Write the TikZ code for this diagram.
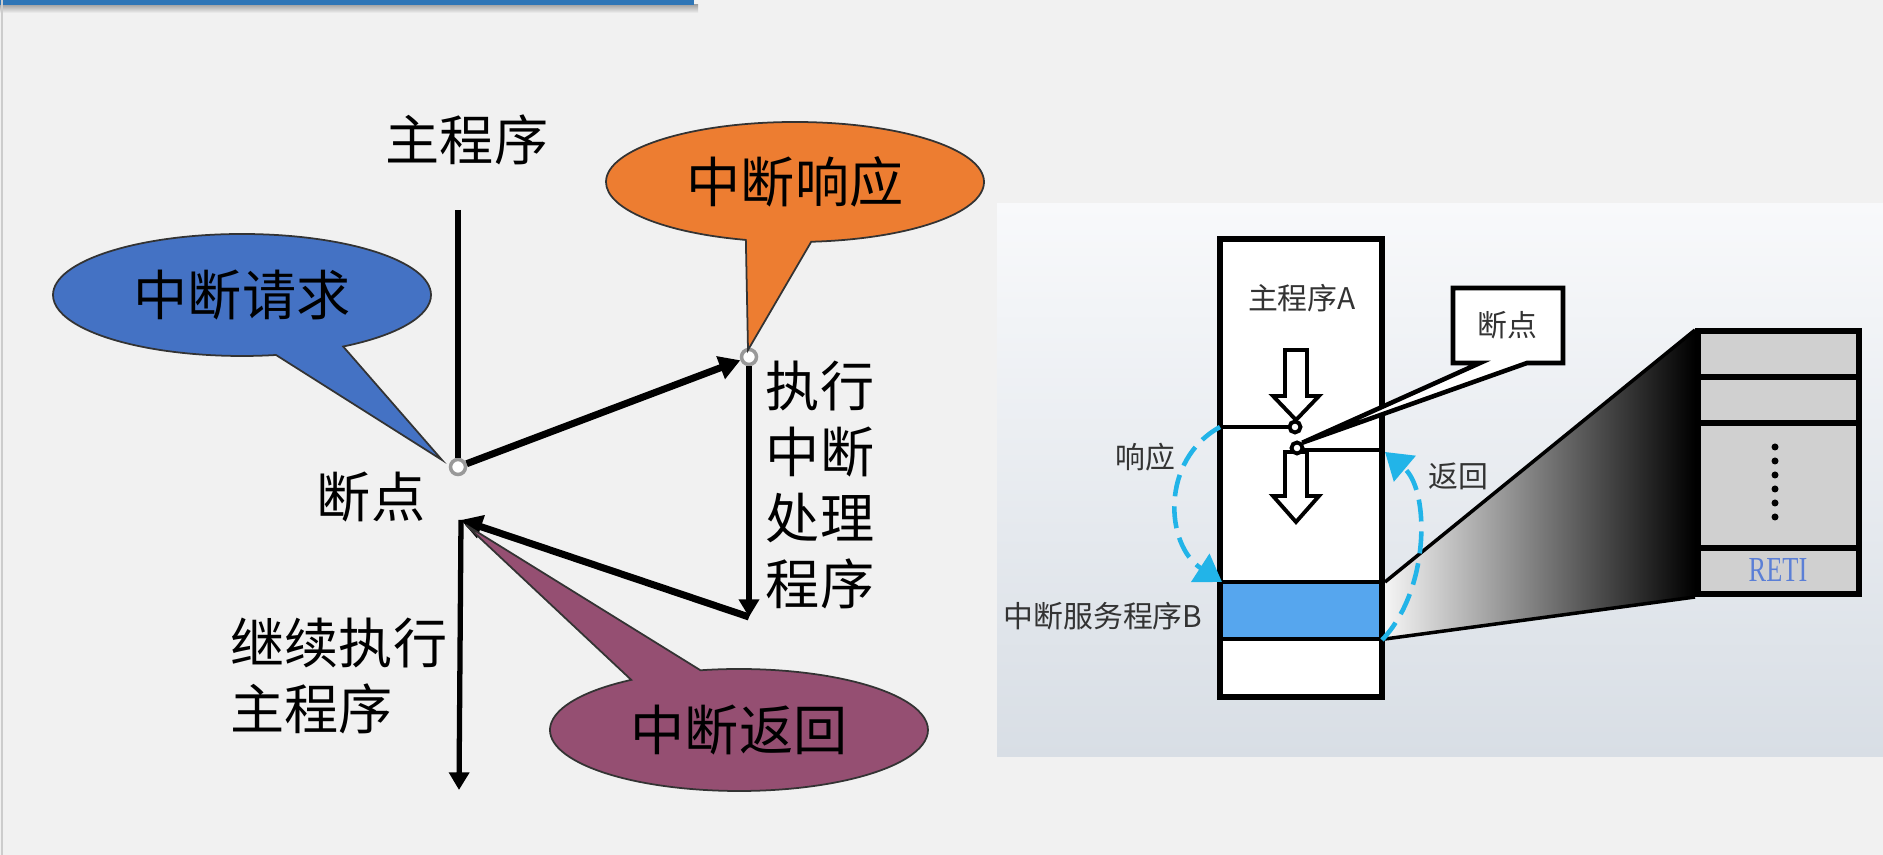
\documentclass[tikz,border=0pt]{standalone}
\usepackage{fontspec}
\usepackage{tikz}
\usetikzlibrary{arrows.meta, positioning, shapes.callouts, shapes.geometric}
\setmainfont{Noto Sans CJK SC}
\newfontfamily\serfont{Liberation Serif}
\definecolor{panelgray}{HTML}{F1F1F1}
\definecolor{barblue}{HTML}{2E75B6}
\definecolor{reqblue}{HTML}{4472C4}
\definecolor{resporange}{HTML}{ED7D31}
\definecolor{retpurple}{HTML}{954F72}
\definecolor{bandblue}{HTML}{56A6EE}
\definecolor{dashcyan}{HTML}{22B4E8}
\definecolor{stackgray}{HTML}{D0D0D0}
\definecolor{retiblue}{HTML}{5B7FD6}
\definecolor{phototop}{HTML}{F8F9FB}
\definecolor{photobot}{HTML}{D8DEE5}
\begin{document}
\begin{tikzpicture}[x=0.1mm, y=-0.1mm,
  lbl/.style={font=\fontsize{15.4}{18.8}\selectfont, inner sep=0pt},
  small/.style={font=\fontsize{8.5}{9}\selectfont, text=black!80, inner sep=0pt},
  bubble/.style={ellipse callout, draw=black!80, line width=0.5pt, inner sep=0pt,
    font=\fontsize{15.4}{18.8}\selectfont, minimum width=37.8mm, minimum height=12.2mm},
  bpt/.style={circle, draw=gray!80, fill=white, line width=1pt,
    minimum size=1.5mm, inner sep=0pt},
  flow/.style={line width=1.5pt, -{Triangle[length=5pt,width=5.6pt]}},
  jump/.style={line width=2pt, -{Triangle[length=6pt,width=6.6pt]}},
  hollow/.style={draw=black, fill=white, line width=1.1pt, line join=miter},
  pinpt/.style={circle, draw=black, fill=white, line width=1.1pt,
    minimum size=1.1mm, inner sep=0pt},
  cyanarc/.style={dashcyan, line width=1.3pt, dash pattern=on 2.2mm off 1mm,
    -{Triangle[length=2.6mm,width=3.3mm]}}
]
  \useasboundingbox (0,0) rectangle (1883,855);
  \fill[panelgray] (0,0) rectangle (1883,855);

  % title bar and page edge
  \shade[top color=black!35, bottom color=panelgray] (0,5) rectangle (698,13);
  \fill[barblue] (0,0) rectangle (694,5);
  \draw[black!20, line width=0.5pt] (2,0) -- (2,855);

  % flow on the left
  \coordinate (mainTop) at (458,210);
  \node[bpt] (bpA) at (458,467) {};
  \node[bpt] (bpB) at (749,357) {};
  \coordinate (isrEnd) at (749,617);
  \coordinate (resume) at (461,520);
  \coordinate (mainEnd) at (459,790);

  \draw[line width=1.5pt] (mainTop) -- (bpA.north);
  \draw[jump] (bpA) -- (bpB);
  \draw[flow] (bpB.south) -- (isrEnd);
  \draw[jump] (isrEnd) -- (resume);
  \draw[flow] (resume) -- (mainEnd);

  \node[lbl] (mainLbl) at (467,140) {主程序};
  \node[lbl] (bpLbl) at (371,497) {断点};
  \node[lbl, align=center] (isrLbl) at (820,485) {执行\\中断\\处理\\程序};
  \node[lbl, align=left, anchor=west] (contLbl) at (230,676) {继续执行\\主程序};

  % callouts
  \node[bubble, fill=reqblue, callout absolute pointer={(442,460)},
    callout pointer arc=22] (reqBub) at (242,295) {中断请求};
  \node[bubble, fill=resporange, callout absolute pointer={(748,350)},
    callout pointer arc=20, minimum height=12mm] (respBub) at (795,182) {中断响应};
  \node[bubble, fill=retpurple, callout absolute pointer={(466,525)},
    callout pointer arc=23] (retBub) at (739,730) {中断返回};

  % picture on the right
  \shade[top color=phototop, bottom color=photobot] (997,204) rectangle (1883,757);

  % zoom wedge
  \shade[left color=white!92!gray, right color=black]
    (1385,582) -- (1695,330) -- (1695,597) -- (1385,639) -- cycle;
  \draw[line width=1pt] (1385,582) -- (1695,330);
  \draw[line width=1pt] (1385,639) -- (1695,597);

  % stack
  \draw[fill=stackgray, line width=1.7pt] (1698,331) rectangle (1859,594);
  \foreach \y in {377,423,548}
    \draw[line width=1.5pt] (1698,\y) -- (1859,\y);
  \foreach \y in {447,461,...,517}
    \fill (1775,\y) circle (0.35mm);
  \node[font=\serfont\fontsize{10}{10}\selectfont, text=retiblue, xscale=0.75,
    inner sep=0pt] (retiLbl) at (1778,570) {RETI};

  % memory column
  \draw[fill=white, line width=1.7pt] (1220,239) rectangle (1382,697);
  \fill[bandblue] (1223,582) rectangle (1379,639);
  \draw[line width=1.4pt] (1220,582) -- (1382,582);
  \draw[line width=1.4pt] (1220,639) -- (1382,639);
  \draw[line width=1.2pt] (1220,427) -- (1290,427);
  \draw[line width=1.2pt] (1302,450) -- (1382,450);
  \node[small] (progA) at (1302,298) {主程序A};

  \draw[hollow] (1285,350) -- (1307,350) -- (1307,396) -- (1319,396) -- (1296,420)
    -- (1273,396) -- (1285,396) -- cycle;
  \draw[hollow] (1285,452) -- (1307,452) -- (1307,496) -- (1319,496) -- (1296,522)
    -- (1273,496) -- (1285,496) -- cycle;
  \node[pinpt] (pinA) at (1295,427) {};
  \node[pinpt] (pinB) at (1297,448) {};

  % breakpoint note
  \draw[fill=white, line width=1.3pt, line join=miter]
    (1453,288) -- (1563,288) -- (1563,363) -- (1527,363) -- (pinB.north east)
    -- (1480,363) -- (1453,363) -- cycle;
  \node[small] (bpNote) at (1507,325) {断点};

  % response and return
  \draw[cyanarc] (1220,427) .. controls (1160,460) and (1165,545) .. (1222,582);
  \draw[cyanarc] (1382,640) .. controls (1430,590) and (1430,490) .. (1385,452);
  \node[small] (respLbl) at (1145,457) {响应};
  \node[small] (retLbl) at (1458,476) {返回};
  \node[small] (isrB) at (1103,616) {中断服务程序B};
\end{tikzpicture}
\end{document}
